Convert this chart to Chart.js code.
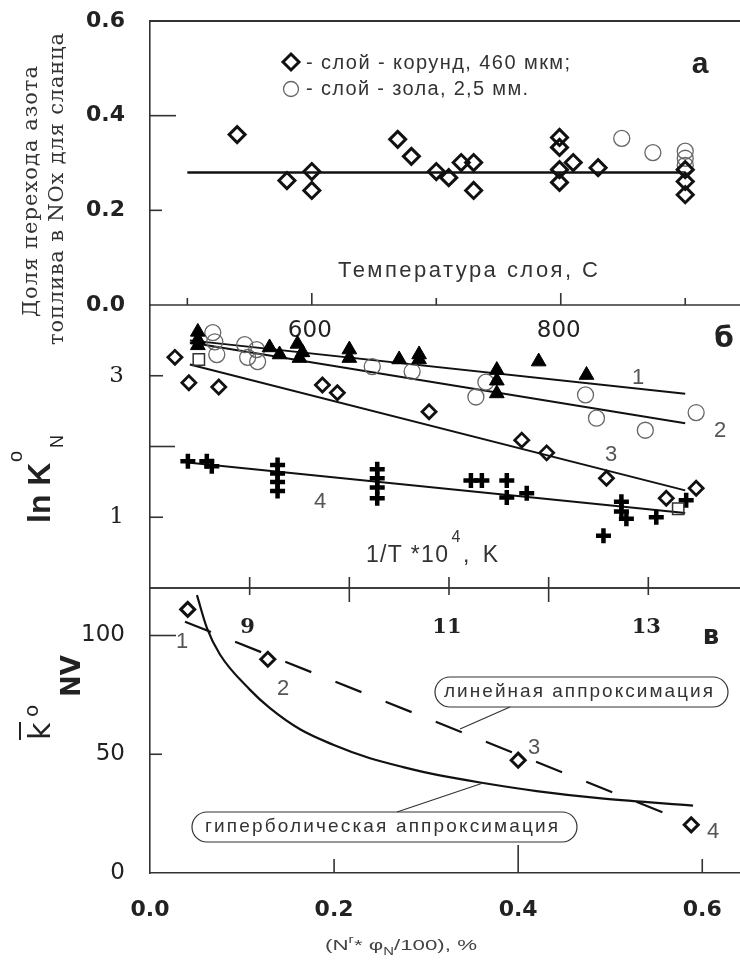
<!DOCTYPE html>
<html>
<head>
<meta charset="utf-8">
<script src="https://cdn.jsdelivr.net/npm/chart.js@4.4.1/dist/chart.umd.min.js"></script>
<style>
  html, body { margin: 0; padding: 0; background: #fff; }
  #wrap { position: relative; width: 740px; height: 970px; overflow: hidden; }
  canvas { position: absolute; left: 0; }
</style>
</head>
<body>
<div id="wrap">
  <canvas id="ca" width="740" height="345" style="top:0px"></canvas>
  <canvas id="cb" width="740" height="340" style="top:300px"></canvas>
  <canvas id="cc" width="740" height="390" style="top:580px"></canvas>
</div>
<script>
// ---- panel a: share of fuel nitrogen converted to NOx vs bed temperature
const tempCorundum = [540, 580, 600, 600, 669, 680, 700, 710, 720, 730, 730, 799, 799, 799, 799, 810, 830, 900, 900, 900];
const shareCorundum = [0.36, 0.263, 0.282, 0.242, 0.35, 0.314, 0.282, 0.269, 0.301, 0.301, 0.242, 0.354, 0.333, 0.286, 0.259, 0.301, 0.29, 0.286, 0.261, 0.233];
const tempAsh = [849, 874, 900, 900, 900];
const shareAsh = [0.352, 0.322, 0.325, 0.31, 0.295];
const tempFit = [500, 900];
const shareFit = [0.28, 0.28];
const tempTicks = [500, 600, 700, 800, 900];
const tempLabels = [600, 800];
const shareTicks = [0.2, 0.4, 0.6];

// ---- panel b: ln K vs 1/T*10^4
const invT1 = [8.48, 8.48, 8.48, 9.2, 9.3, 9.48, 9.53, 9.5, 10.0, 10.0, 10.5, 10.7, 10.7, 11.48, 11.48, 11.48, 11.9, 12.38];
const lnK1 = [3.62, 3.51, 3.43, 3.40, 3.30, 3.45, 3.33, 3.25, 3.37, 3.25, 3.23, 3.30, 3.23, 3.08, 2.93, 2.75, 3.20, 3.01];
const invT2 = [8.63, 8.65, 8.67, 8.95, 8.98, 9.07, 9.08, 10.23, 10.63, 11.37, 11.27, 12.37, 12.48, 12.97, 13.48];
const lnK2 = [3.61, 3.48, 3.30, 3.44, 3.26, 3.37, 3.20, 3.13, 3.06, 2.91, 2.70, 2.73, 2.40, 2.23, 2.48];
const invT3 = [8.25, 8.39, 8.69, 9.73, 9.88, 10.8, 11.73, 11.98, 12.58, 13.18, 13.48];
const lnK3 = [3.26, 2.90, 2.84, 2.87, 2.76, 2.49, 2.09, 1.91, 1.55, 1.27, 1.41];
const invTSq = [8.49, 13.3];
const lnKSq = [3.23, 1.12];
const invT4 = [8.38, 8.57, 8.62, 9.28, 9.28, 9.28, 9.28, 10.28, 10.28, 10.28, 10.28, 11.22, 11.33, 11.58, 11.58, 11.78, 12.73, 12.73, 12.78, 12.55, 13.08, 13.38];
const lnK4 = [1.79, 1.79, 1.72, 1.74, 1.62, 1.50, 1.37, 1.68, 1.55, 1.42, 1.27, 1.52, 1.52, 1.52, 1.28, 1.34, 1.22, 1.08, 0.98, 0.74, 1.0, 1.24];
const fitInvT = [8.4, 13.37];
const fitLn1 = [3.50, 2.745];
const fitLn2 = [3.47, 2.33];
const fitLn3 = [3.16, 1.38];
const fitLn4 = [1.77, 1.06];
const invTTicks = [9, 10, 11, 12, 13];
const invTLabels = [9, 11, 13];
const lnKTicks = [1, 2, 3];

// ---- panel c: mean K vs N*phi/100
const fracN = [0.041, 0.128, 0.40, 0.588];
const kNV = [111, 90, 47.5, 20.3];
const linX = [0.038, 0.558];
const linY = [105.8, 25.4];
const hypX = [0.051, 0.062, 0.076, 0.109, 0.13, 0.163, 0.199, 0.239, 0.275, 0.312, 0.362, 0.42, 0.493, 0.59];
const hypY = [117, 103, 92, 77, 69.5, 60.5, 54, 48.3, 44.6, 41.3, 37.9, 34.5, 31.3, 28.4];
const fracTicks = [0.2, 0.4, 0.6];
const kTicks = [50, 100];

const toXY = (xs, ys) => xs.map((x, i) => ({ x: x, y: ys[i] }));
const ink = '#222';
const frame = '#333';

function line(ctx, x1, y1, x2, y2) {
  ctx.beginPath(); ctx.moveTo(x1, y1); ctx.lineTo(x2, y2); ctx.stroke();
}

// draw text starting at x0 so that it spans `width` pixels
function fitText(ctx, text, x0, y, width) {
  ctx.textAlign = 'left';
  const n = Array.from(text).length;
  ctx.letterSpacing = '0px';
  const w = ctx.measureText(text).width;
  if ('letterSpacing' in ctx) {
    const ls = n > 1 ? (width - w) / (n - 1) : 0;
    ctx.letterSpacing = ls.toFixed(2) + 'px';
    ctx.fillText(text, x0, y);
    ctx.letterSpacing = '0px';
  } else {
    ctx.save(); ctx.translate(x0, y); ctx.scale(width / w, 1);
    ctx.fillText(text, 0, 0); ctx.restore();
  }
}

function pill(ctx, x, y, w, h) {
  const r = h / 2;
  ctx.beginPath();
  ctx.moveTo(x + r, y);
  ctx.lineTo(x + w - r, y);
  ctx.arc(x + w - r, y + r, r, -Math.PI / 2, Math.PI / 2);
  ctx.lineTo(x + r, y + h);
  ctx.arc(x + r, y + r, r, Math.PI / 2, Math.PI * 1.5);
  ctx.closePath();
  ctx.stroke();
}

function fixY(s) { s.width = 150; s.paddingTop = 0; s.paddingBottom = 0; }
function fixX(s) { s.height = 97; s.paddingLeft = 0; s.paddingRight = 0; }

function baseOptions(padding, xScale, yScale) {
  return {
    responsive: false,
    animation: false,
    events: [],
    layout: { autoPadding: false, padding: padding },
    plugins: { legend: { display: false }, tooltip: { enabled: false } },
    scales: { x: xScale, y: yScale }
  };
}

function yAxis(min, max, step, font, pad, cb) {
  return {
    type: 'linear', min: min, max: max, afterFit: fixY,
    border: { display: true, color: frame, width: 1.6 },
    grid: { display: false },
    ticks: { stepSize: step, padding: pad, color: ink, font: font, callback: cb }
  };
}

// ================= panel a =================
const panelA = {
  id: 'panelA',
  afterDraw(chart) {
    const { ctx, chartArea: a, scales: { x, y } } = chart;
    ctx.save();
    ctx.strokeStyle = frame;
    ctx.lineWidth = 2;
    line(ctx, a.left, a.top, a.right, a.top);
    ctx.lineWidth = 1.6;
    line(ctx, a.left, a.bottom, a.right, a.bottom);
    shareTicks.forEach(v => {
      const py = y.getPixelForValue(v);
      line(ctx, a.left, py, a.left + (v === 0.4 ? 26 : 12), py);
    });
    tempTicks.forEach(v => {
      const px = x.getPixelForValue(v);
      line(ctx, px, a.bottom, px, a.bottom - (tempLabels.includes(v) ? 12 : 7));
    });
    ctx.fillStyle = ink;
    ctx.textBaseline = 'middle';
    ctx.textAlign = 'center';
    ctx.font = '23px "DejaVu Sans"';
    tempLabels.forEach(v => ctx.fillText(String(v), x.getPixelForValue(v) - 2, 331));

    // legend
    ctx.strokeStyle = '#111'; ctx.lineWidth = 3;
    ctx.beginPath();
    ctx.moveTo(291, 54); ctx.lineTo(299, 62); ctx.lineTo(291, 70); ctx.lineTo(283, 62); ctx.closePath();
    ctx.stroke();
    ctx.strokeStyle = '#666'; ctx.lineWidth = 1.3;
    ctx.beginPath(); ctx.arc(291, 89, 7.5, 0, Math.PI * 2); ctx.stroke();
    ctx.fillStyle = '#333';
    ctx.font = '20px "Liberation Sans"';
    fitText(ctx, '- слой - корунд, 460 мкм;', 306, 63, 264);
    fitText(ctx, '- слой - зола, 2,5 мм.', 306, 89, 222);
    ctx.font = '22px "Liberation Sans"';
    fitText(ctx, 'Температура слоя, С', 338, 271, 260);
    ctx.fillStyle = ink;
    ctx.font = 'bold 30px "Liberation Sans"';
    ctx.textAlign = 'center';
    ctx.fillText('а', 700, 65);

    // y title
    ctx.fillStyle = '#333';
    ctx.font = '21px "DejaVu Serif"';
    ctx.textBaseline = 'alphabetic';
    ctx.save(); ctx.translate(37, 192); ctx.rotate(-Math.PI / 2);
    fitText(ctx, 'Доля перехода азота', -125, 0, 251);
    ctx.restore();
    ctx.save(); ctx.translate(63, 189); ctx.rotate(-Math.PI / 2);
    fitText(ctx, 'топлива в NOx для сланца', -156, 0, 312);
    ctx.restore();
    ctx.restore();
  }
};

new Chart(document.getElementById('ca'), {
  type: 'scatter',
  data: {
    datasets: [
      { data: toXY(tempCorundum, shareCorundum), pointStyle: 'rectRot', pointRadius: 8, borderWidth: 3, borderColor: '#111', backgroundColor: 'rgba(255,255,255,0)' },
      { data: toXY(tempAsh, shareAsh), pointStyle: 'circle', pointRadius: 8, borderWidth: 1.3, borderColor: '#666', backgroundColor: 'rgba(255,255,255,0)' },
      { data: toXY(tempFit, shareFit), showLine: true, pointRadius: 0, borderColor: '#111', borderWidth: 2.5 }
    ]
  },
  options: baseOptions({ top: 21, bottom: 40, left: 0, right: 0 },
    { type: 'linear', display: false, min: 470, max: 944 },
    yAxis(0, 0.6, 0.2, { family: 'DejaVu Sans', size: 22, weight: 'bold' }, 17, v => v.toFixed(1))),
  plugins: [panelA]
});

// ================= panel b =================
const panelB = {
  id: 'panelB',
  afterDraw(chart) {
    const { ctx, chartArea: a, scales: { x, y } } = chart;
    ctx.save();
    ctx.translate(0, -300);
    const bottom = a.bottom + 300, left = a.left;
    ctx.strokeStyle = frame; ctx.lineWidth = 1.6;
    line(ctx, left, bottom, a.right, bottom);
    lnKTicks.forEach(v => {
      const py = y.getPixelForValue(v) + 300;
      line(ctx, left, py, left + (v === 2 ? 25 : 13), py);
    });
    invTTicks.forEach(v => {
      const px = x.getPixelForValue(v);
      const major = !invTLabels.includes(v);
      line(ctx, px, bottom - 11, px, bottom + (major ? 14 : 7));
    });
    ctx.fillStyle = ink;
    ctx.textAlign = 'center'; ctx.textBaseline = 'middle';
    ctx.font = 'bold 21px "DejaVu Serif"';
    invTLabels.forEach(v => ctx.fillText(String(v), x.getPixelForValue(v) - 2, 628));

    // line numbers
    ctx.fillStyle = '#555';
    ctx.font = '22px "Liberation Sans"';
    ctx.fillText('1', 638, 378);
    ctx.fillText('2', 720, 431);
    ctx.fillText('3', 611, 455);
    ctx.fillText('4', 320, 502);
    ctx.fillStyle = ink;
    ctx.font = 'bold 28px "DejaVu Sans"';
    ctx.fillText('б', 724, 340);

    // x title
    ctx.fillStyle = '#333';
    ctx.font = '23px "Liberation Sans"';
    fitText(ctx, '1/T *10', 366, 556, 82);
    ctx.font = '16px "Liberation Sans"';
    ctx.textAlign = 'center';
    ctx.fillText('4', 456, 538);
    ctx.font = '23px "Liberation Sans"';
    fitText(ctx, ', K', 463, 556, 35);

    // y title
    ctx.fillStyle = ink;
    ctx.textBaseline = 'alphabetic'; ctx.textAlign = 'left';
    ctx.save(); ctx.translate(50, 523); ctx.rotate(-Math.PI / 2);
    ctx.font = 'bold 32px "Liberation Sans"';
    ctx.fillText('ln K', 0, 0);
    ctx.font = '20px "Liberation Sans"';
    ctx.fillText('o', 61, -28);
    ctx.font = '18px "Liberation Sans"';
    ctx.fillText('N', 75, 13);
    ctx.restore();
    ctx.restore();
  }
};

const fitLine = (ys) => ({ data: toXY(fitInvT, ys), showLine: true, pointRadius: 0, borderColor: '#111', borderWidth: 2 });

new Chart(document.getElementById('cb'), {
  type: 'scatter',
  data: {
    datasets: [
      { data: toXY(invT1, lnK1), pointStyle: 'triangle', pointRadius: 8.5, borderWidth: 1, borderColor: '#000', backgroundColor: '#000' },
      { data: toXY(invT2, lnK2), pointStyle: 'circle', pointRadius: 8, borderWidth: 1.3, borderColor: '#666', backgroundColor: 'rgba(255,255,255,0)' },
      { data: toXY(invT3, lnK3), pointStyle: 'rectRot', pointRadius: 7, borderWidth: 2.8, borderColor: '#111', backgroundColor: 'rgba(255,255,255,0)' },
      { data: toXY(invTSq, lnKSq), pointStyle: 'rect', pointRadius: 8, borderWidth: 1.5, borderColor: '#333', backgroundColor: 'rgba(255,255,255,0)' },
      { data: toXY(invT4, lnK4), pointStyle: 'cross', pointRadius: 7.5, borderWidth: 4.5, borderColor: '#000' },
      fitLine(fitLn1), fitLine(fitLn2), fitLine(fitLn3), fitLine(fitLn4)
    ]
  },
  options: baseOptions({ top: 5, bottom: 52, left: 0, right: 0 },
    { type: 'linear', display: false, min: 8, max: 13.92 },
    yAxis(0, 4, 1, { family: 'DejaVu Serif', size: 23 }, 18, v => (v === 1 || v === 3) ? String(v) : '')),
  plugins: [panelB]
});

// ================= panel c =================
const panelC = {
  id: 'panelC',
  afterDraw(chart) {
    const { ctx, chartArea: a, scales: { x, y } } = chart;
    ctx.save();
    ctx.translate(0, -580);
    const top = a.top + 580, bottom = a.bottom + 580, left = a.left;
    ctx.strokeStyle = frame; ctx.lineWidth = 1.6;
    line(ctx, left, top, a.right, top);
    kTicks.forEach(v => {
      const py = y.getPixelForValue(v) + 580;
      line(ctx, left, py, left + (v === 100 ? 26 : 12), py);
    });
    fracTicks.forEach(v => {
      const px = x.getPixelForValue(v);
      line(ctx, px, bottom, px, bottom - (v === 0.4 ? 28 : 14));
    });

    // point numbers
    ctx.fillStyle = '#555';
    ctx.textAlign = 'center'; ctx.textBaseline = 'middle';
    ctx.font = '22px "Liberation Sans"';
    ctx.fillText('1', 182, 642);
    ctx.fillText('2', 283, 689);
    ctx.fillText('3', 534, 748);
    ctx.fillText('4', 713, 832);
    ctx.fillStyle = ink;
    ctx.font = 'bold 26px "DejaVu Sans"';
    ctx.fillText('в', 711, 637);

    // callouts
    ctx.strokeStyle = '#333'; ctx.lineWidth = 1.2;
    pill(ctx, 435, 677, 293, 30);
    pill(ctx, 192, 812, 385, 30);
    line(ctx, 510, 707, 460, 729);
    line(ctx, 397, 812, 483, 783);
    ctx.fillStyle = '#333';
    ctx.font = '19px "Liberation Sans"';
    fitText(ctx, 'линейная аппроксимация', 444, 692, 269);
    fitText(ctx, 'гиперболическая аппроксимация', 205, 827, 353);

    // x title
    ctx.fillStyle = '#444';
    ctx.textBaseline = 'alphabetic';
    const parts = [
      { t: '(N', f: '15px "Liberation Sans"', dy: 0 },
      { t: 'г', f: '10px "Liberation Sans"', dy: -7 },
      { t: '* φ', f: '15px "Liberation Sans"', dy: 0 },
      { t: 'N', f: '10px "Liberation Sans"', dy: 5 },
      { t: '/100), %', f: '15px "Liberation Sans"', dy: 0 }
    ];
    let total = 0;
    parts.forEach(p => { ctx.font = p.f; p.w = ctx.measureText(p.t).width; total += p.w; });
    ctx.save();
    ctx.translate(325, 950);
    ctx.scale(152 / total, 1);
    let cx = 0;
    ctx.textAlign = 'left';
    parts.forEach(p => { ctx.font = p.f; ctx.fillText(p.t, cx, p.dy); cx += p.w; });
    ctx.restore();

    // y title
    ctx.fillStyle = ink;
    ctx.save(); ctx.translate(50, 740); ctx.rotate(-Math.PI / 2);
    ctx.font = '30px "DejaVu Sans"';
    ctx.fillText('k', 0, 0);
    ctx.fillRect(0, -31, 18, 2);
    ctx.font = '20px "DejaVu Sans"';
    ctx.fillText('o', 23, -12);
    ctx.font = 'bold 26px "DejaVu Sans"';
    ctx.fillText('NV', 43, 30);
    ctx.restore();
    ctx.restore();
  }
};

new Chart(document.getElementById('cc'), {
  type: 'scatter',
  data: {
    datasets: [
      { data: toXY(fracN, kNV), pointStyle: 'rectRot', pointRadius: 7, borderWidth: 3, borderColor: '#111', backgroundColor: 'rgba(255,255,255,0)' },
      { data: toXY(linX, linY), showLine: true, pointRadius: 0, borderColor: '#111', borderWidth: 2.2, borderDash: [28, 26] },
      { data: toXY(hypX, hypY), showLine: true, pointRadius: 0, borderColor: '#111', borderWidth: 2.2, cubicInterpolationMode: 'monotone' }
    ]
  },
  options: baseOptions({ top: 8, bottom: 0, left: 0, right: 0 },
    {
      type: 'linear', min: 0, max: 0.641, afterFit: fixX,
      border: { display: true, color: frame, width: 1.6 },
      grid: { display: false },
      ticks: {
        stepSize: 0.2, includeBounds: false, padding: 16, color: ink, maxRotation: 0, autoSkip: false,
        font: { family: 'DejaVu Sans', size: 22, weight: 'bold' },
        callback: v => Math.abs(v * 5 - Math.round(v * 5)) < 1e-6 ? v.toFixed(1) : ''
      }
    },
    yAxis(0, 120, 50, { family: 'DejaVu Sans', size: 23 }, 17, v => v % 50 === 0 ? String(v) : '')),
  plugins: [panelC]
});
</script>
</body>
</html>
